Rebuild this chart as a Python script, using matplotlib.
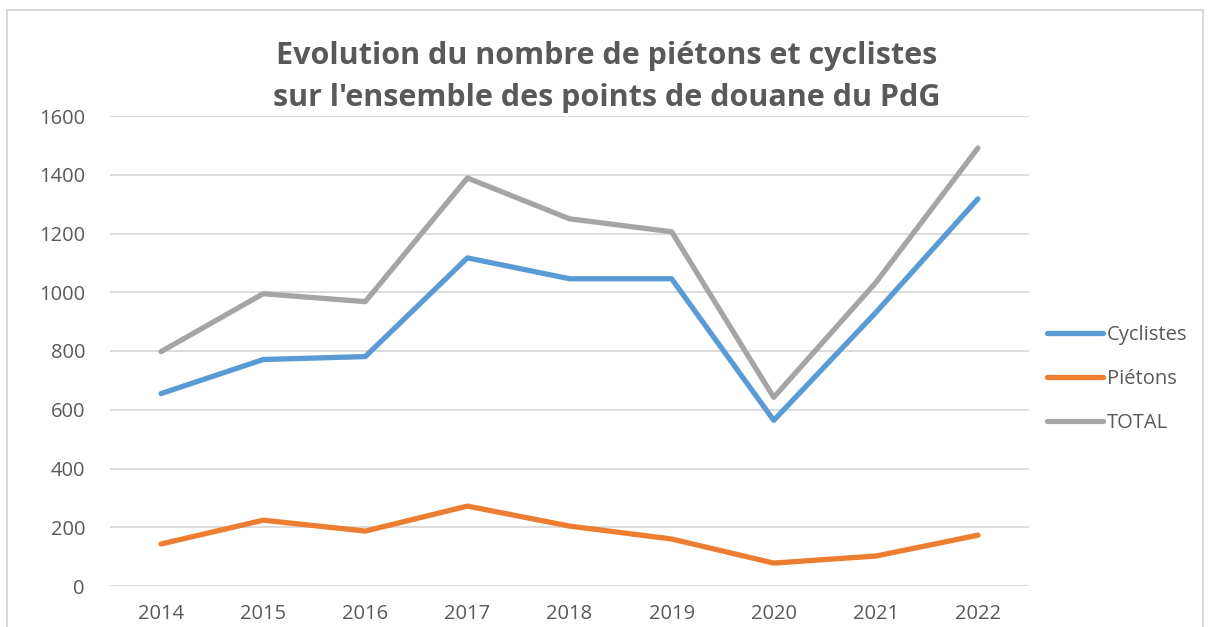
import matplotlib
matplotlib.use("Agg")
import matplotlib.pyplot as plt
from matplotlib.patches import Rectangle

years = ["2014", "2015", "2016", "2017", "2018", "2019", "2020", "2021", "2022"]
cyclistes = [655, 771, 781, 1117, 1046, 1046, 564, 931, 1318]
pietons = [143, 224, 187, 272, 204, 160, 78, 102, 173]
total = [798, 995, 968, 1389, 1250, 1206, 642, 1033, 1491]
yticks = [0, 200, 400, 600, 800, 1000, 1200, 1400, 1600]

plt.rcParams['font.family'] = ['Open Sans', 'DejaVu Sans']
W, H = 1209, 627
fig = plt.figure(figsize=(W/100, H/100), dpi=100)
fig.patches.append(Rectangle((7/W, -0.1), (1203-7)/W, 1.1 - 10/H, transform=fig.transFigure,
                             fill=False, edgecolor='#d9d9d9', linewidth=1.5))

ax = fig.add_axes([110/W, 1-586/H, (1029-110)/W, (586-116)/H])
x = list(range(len(years)))
kw = dict(linewidth=3.8, solid_capstyle='round', solid_joinstyle='round')
ax.plot(x, cyclistes, color='#5B9BD5', label='Cyclistes', **kw)
ax.plot(x, pietons, color='#ED7D31', label='Piétons', **kw)
ax.plot(x, total, color='#A5A5A5', label='TOTAL', **kw)

ax.set_xlim(-0.5, len(years)-0.5)
ax.set_ylim(0, 1600)
ax.set_yticks(yticks)
ax.set_yticklabels([str(v) for v in yticks])
ax.set_xticks(x)
ax.set_xticklabels(years)
ax.grid(axis='y', color='#d9d9d9', linewidth=1.3)
ax.set_axisbelow(True)
for s in ax.spines.values():
    s.set_visible(False)
ax.tick_params(axis='both', length=0, labelsize=14.5, colors='#595959')
ax.tick_params(axis='y', pad=18)
ax.tick_params(axis='x', pad=13)

leg = ax.legend(loc='center left', bbox_to_anchor=(1.0, 0.44), frameon=False,
                fontsize=14.5, handlelength=2.75, handletextpad=0.2, labelspacing=1.2,
                labelcolor='#595959')

fig.text(607/W, 1-77/H, "Evolution du nombre de piétons et cyclistes\nsur l'ensemble des points de douane du PdG",
         ha='center', va='center', fontsize=22, fontweight='bold', color='#595959',
         linespacing=1.52)

fig.savefig('out.png', dpi=100)
